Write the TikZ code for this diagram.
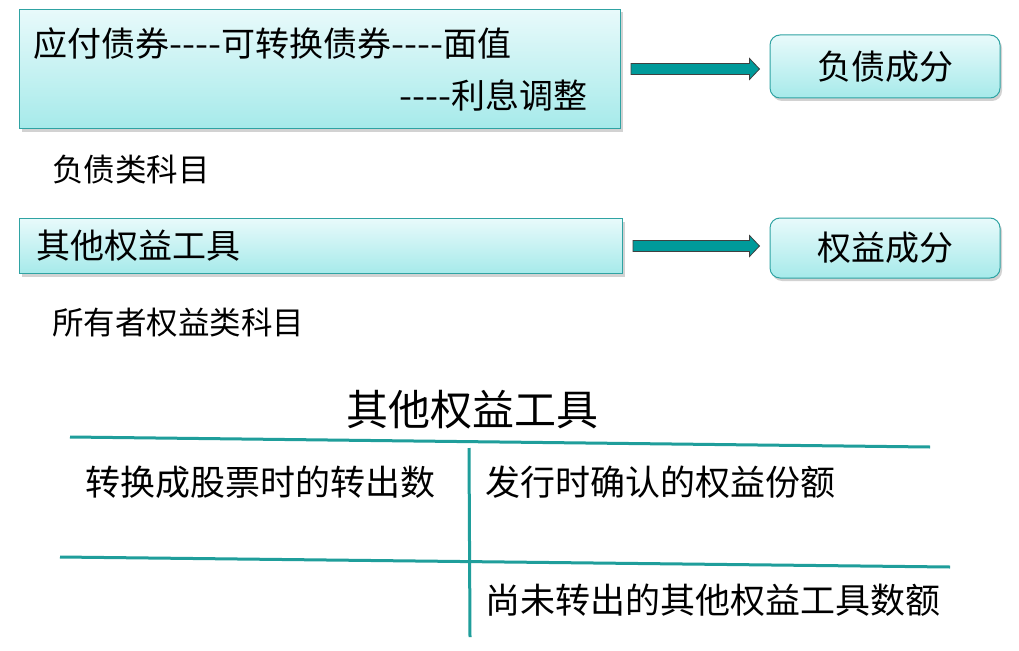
\documentclass[tikz,border=0pt]{standalone}
\usepackage{fontspec}
\usepackage{graphicx}
\setmainfont{Noto Sans CJK SC}
\usetikzlibrary{shadows,calc}
\definecolor{boxtop}{HTML}{E8FAFB}
\definecolor{boxbot}{HTML}{A6EAEA}
\definecolor{boxline}{HTML}{2FA3A3}
\definecolor{tealarrow}{HTML}{009A9A}
\definecolor{tline}{HTML}{1F9E9B}
\newcommand\dsh{\scalebox{1.1}[1]{-{}-{}-{}-}}
\newcommand\blockarr[2]{%
  \filldraw[blockarrow] let \p1=($(#1.east)+(10,0)$), \p2=($(#2.west)+(-10,0)$) in
    (\x1,\y1+5.5pt) -- (\x2-10pt,\y1+5.5pt) -- (\x2-10pt,\y1+10.5pt) -- (\x2,\y1)
    -- (\x2-10pt,\y1-10.5pt) -- (\x2-10pt,\y1-5.5pt) -- (\x1,\y1-5.5pt) -- cycle;}
\begin{document}
\begin{tikzpicture}[x=1pt,y=-1pt,
  panel/.style={draw=boxline, line width=1pt, top color=boxtop, bottom color=boxbot,
    drop shadow={shadow xshift=2pt, shadow yshift=-3pt, opacity=0.35}, inner sep=0pt},
  target/.style={panel, rounded corners=10pt, minimum width=230pt, font=\fontsize{34}{40}\selectfont},
  txt/.style={inner sep=0pt, font=\fontsize{35}{41}\selectfont},
  boxtxt/.style={inner sep=0pt, font=\fontsize{34}{40}\selectfont},
  lbl/.style={inner sep=0pt, anchor=west, font=\fontsize{31.5}{37}\selectfont},
  blockarrow/.style={fill=tealarrow, draw=black!75, line width=0.8pt},
  tl/.style={draw=tline, line width=3pt}]
\useasboundingbox (0,0) rectangle (1019,650);
\fill[white] (0,0) rectangle (1019,650);
% top panel
\node[panel, anchor=north west, minimum width=601pt, minimum height=119pt] (b1) at (19,9) {};
\node[boxtxt, anchor=west] (b1t1) at (33,44) {应付债券\dsh 可转换债券\dsh 面值};
\node[boxtxt, anchor=east] (b1t2) at (588,95) {\dsh 利息调整};
\node[target, minimum height=63pt] (c1) at (885,66.5) {负债成分};
\blockarr{b1}{c1}
\node[lbl] (l1) at (52,170) {负债类科目};
% second panel
\node[panel, anchor=north west, minimum width=603pt, minimum height=55pt] (b2) at (19,218) {};
\node[boxtxt, anchor=west] (b2t) at (36,246) {其他权益工具};
\node[target, minimum height=60pt] (c2) at (885,248) {权益成分};
\blockarr{b2}{c2}
\node[lbl] (l2) at (52,323) {所有者权益类科目};
% T account
\node[inner sep=0pt, font=\fontsize{42}{48}\selectfont] (title) at (472,410) {其他权益工具};
\coordinate (t1) at (70,437);
\coordinate (t2) at (930,447);
\coordinate (m1) at (60,557);
\coordinate (m2) at (950,567);
\coordinate (v1) at (469,448);
\coordinate (v2) at (470,637);
\draw[tl] (t1) -- (t2);
\draw[tl] (m1) -- (m2);
\draw[tl] (v1) -- (v2);
\node[txt, anchor=west] (d1) at (85,482) {转换成股票时的转出数};
\node[txt, anchor=west] (c1t) at (485,482) {发行时确认的权益份额};
\node[txt, anchor=west] (bal) at (485,600) {尚未转出的其他权益工具数额};
\end{tikzpicture}
\end{document}
